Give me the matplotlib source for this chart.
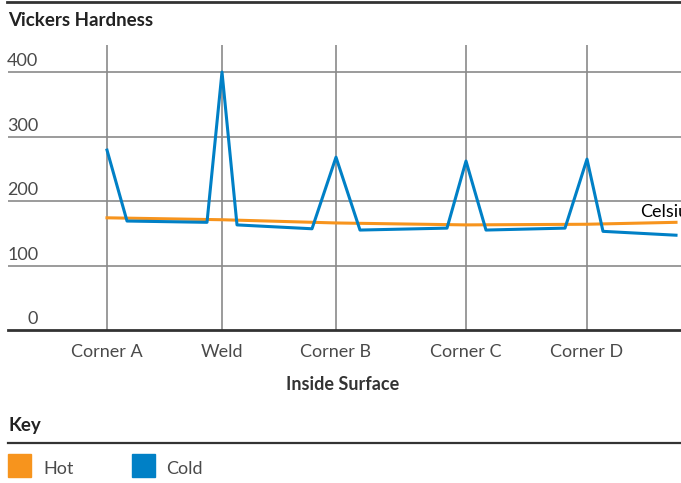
import matplotlib
matplotlib.use("Agg")
import matplotlib.pyplot as plt
from matplotlib.patches import Rectangle
from matplotlib.lines import Line2D

plt.rcParams['font.family'] = ['Lato', 'DejaVu Sans']

# positions along the inside surface
categories = ["Corner A", "Weld", "Corner B", "Corner C", "Corner D"]
category_pos = [0, 115, 229, 359, 480]

# cold (blue) readings
cold_pos = [0, 20, 100, 115, 130, 205, 229, 253, 340, 359, 379, 458, 480, 496, 569]
cold_hv = [279, 169, 167, 400, 163, 157, 268, 155, 158, 262, 155, 158, 265, 153, 147]

# hot (orange) readings
hot_pos = [0, 115, 229, 359, 480, 569]
hot_hv = [174, 171, 166, 163, 164, 167]

y_ticks = [0, 100, 200, 300, 400]

ORANGE = "#F7941D"
BLUE = "#0080C6"
GRID = "#8a8a8a"
DARK = "#333333"
TEXT = "#4a4a4a"

W, H = 681, 483
fig = plt.figure(figsize=(W / 100, H / 100), dpi=100)


def fx(x):
    return x / W


def fy(y):
    return 1 - y / H


ax = fig.add_axes([fx(8), fy(330), fx(681) - fx(8), fy(45) - fy(330)])
ax.set_xlim(-99, 574)
ax.set_ylim(0, 442)
for s in ax.spines.values():
    s.set_visible(False)
ax.set_xticks([])
ax.set_yticks([])

# grid
for v in y_ticks[1:]:
    ax.axhline(v, color=GRID, lw=1.2, zorder=1)
for p in category_pos:
    ax.axvline(p, color=GRID, lw=1.2, zorder=1)
ax.axhline(0, color=DARK, lw=2, zorder=3, clip_on=False)

# y labels above gridlines
for v in y_ticks:
    ax.annotate(str(v), xy=(0.045, v), xycoords=ax.get_yaxis_transform(),
                xytext=(0, 2), textcoords="offset points",
                ha="right", va="bottom", fontsize=13, color=TEXT)

ax.plot(hot_pos, hot_hv, color=ORANGE, lw=2.2, zorder=4)
ax.plot(cold_pos, cold_hv, color=BLUE, lw=2.2, zorder=5)

ax.text(533, 183, "Celsius", fontsize=13, color="black", ha="left", va="center",
        clip_on=False)

# x labels
for name, p in zip(categories, category_pos):
    ax.annotate(name, xy=(p, 0), xycoords=ax.get_xaxis_transform(),
                xytext=(0, -15.5), textcoords="offset points",
                ha="center", va="center", fontsize=13, color=TEXT)

fig.text(fx(343), fy(384), "Inside Surface", ha="center", va="center",
         fontsize=13, fontweight="bold", color=DARK)

# header
fig.add_artist(Line2D([fx(7), 1], [fy(2), fy(2)], color=DARK, lw=2))
fig.text(fx(8), fy(20), "Vickers Hardness", ha="left", va="center",
         fontsize=13.5, fontweight="bold", color="#222222")

# key
fig.text(fx(8), fy(426), "Key", ha="left", va="center",
         fontsize=13.5, fontweight="bold", color="#222222")
fig.add_artist(Line2D([fx(8), 1], [fy(443), fy(443)], color=DARK, lw=1.6))
fig.add_artist(Rectangle((fx(8), fy(477)), fx(23), 23 / H, color=ORANGE,
                         transform=fig.transFigure))
fig.text(fx(43), fy(469), "Hot", ha="left", va="center", fontsize=13, color=TEXT)
fig.add_artist(Rectangle((fx(132), fy(477)), fx(23), 23 / H, color=BLUE,
                         transform=fig.transFigure))
fig.text(fx(166), fy(469), "Cold", ha="left", va="center", fontsize=13, color=TEXT)

fig.savefig("out.png", dpi=100)
